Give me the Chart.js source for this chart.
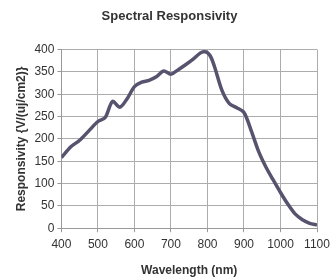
<!DOCTYPE html>
<html>
<head>
<meta charset="utf-8">
<script src="https://cdn.jsdelivr.net/npm/chart.js@4"></script>
<style>
  html, body { margin: 0; padding: 0; background: #fff; }
  #wrap { width: 331px; height: 280px; }
</style>
</head>
<body>
<div id="wrap"><canvas id="chart" width="331" height="280"></canvas></div>
<script>
  const wavelengths = [400, 425, 450, 475, 500, 520, 540, 560, 580, 600, 620, 640, 660, 680, 700,
    720, 740, 760, 780, 790, 800, 810, 820, 840, 860, 880, 900, 920, 940, 960, 980, 1000,
    1020, 1040, 1060, 1080, 1100];
  const responsivity = [158, 182, 197, 218, 239, 248, 284, 271, 290, 317, 327, 331, 339, 352, 345,
    355, 366, 378, 392, 395, 393, 382, 360, 308, 279, 270, 259, 218, 172, 137, 108, 80,
    54, 32, 19, 11, 7];
  const xTicks = [400, 500, 600, 700, 800, 900, 1000, 1100];
  const yTicks = [0, 50, 100, 150, 200, 250, 300, 350, 400];

  const points = wavelengths.map((w, i) => ({ x: w, y: responsivity[i] }));
  const font = "'Liberation Sans', Arial, sans-serif";

  new Chart(document.getElementById("chart"), {
    type: "scatter",
    data: {
      datasets: [{
        data: points,
        showLine: true,
        borderColor: "#57536f",
        borderWidth: 3.5,
        pointRadius: 0,
        tension: 0.3,
        fill: false,
      }],
    },
    options: {
      responsive: false,
      animation: false,
      layout: { padding: { left: 10, right: 2, top: 3, bottom: 0 } },
      plugins: {
        legend: { display: false },
        tooltip: { enabled: false },
        title: {
          display: true,
          text: "Spectral Responsivity",
          color: "#333",
          font: { family: font, size: 13, weight: "bold" },
          padding: { top: 6, bottom: 25 },
        },
      },
      scales: {
        x: {
          type: "linear",
          min: 400,
          max: 1100,
          afterBuildTicks: (axis) => { axis.ticks = xTicks.map((v) => ({ value: v })); },
          afterFit: (axis) => { axis.paddingRight = 14; },
          ticks: {
            color: "#333",
            font: { family: font, size: 12 },
            padding: 5,
            maxRotation: 0,
            callback: (v) => String(v),
          },
          grid: { color: "#acacac", tickLength: 4, tickColor: "#999" },
          border: { color: "#999" },
          title: {
            display: true,
            text: "Wavelength (nm)",
            color: "#333",
            font: { family: font, size: 12, weight: "bold" },
            padding: { top: 7, bottom: 2 },
          },
        },
        y: {
          min: 0,
          max: 400,
          afterBuildTicks: (axis) => { axis.ticks = yTicks.map((v) => ({ value: v })); },
          ticks: { color: "#333", font: { family: font, size: 12 }, padding: 3 },
          grid: { color: "#acacac", tickLength: 4, tickColor: "#999" },
          border: { color: "#999" },
          title: {
            display: true,
            text: "Responsivity {V/(uj/cm2)}",
            color: "#333",
            font: { family: font, size: 12, weight: "bold" },
            padding: { bottom: 3 },
          },
        },
      },
    },
  });
</script>
</body>
</html>
